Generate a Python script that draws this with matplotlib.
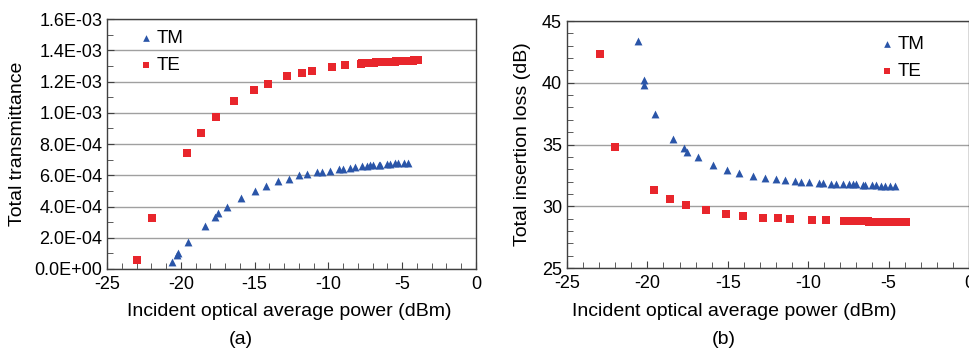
import matplotlib
matplotlib.use("Agg")
import matplotlib.pyplot as plt
from matplotlib.ticker import MultipleLocator, FuncFormatter

plt.rcParams['font.family'] = ['Liberation Sans', 'DejaVu Sans']
plt.rcParams['axes.unicode_minus'] = False

# (a) total transmittance vs incident power
te_x_a = [-22.97, -21.95, -19.58, -18.60, -17.59, -16.37, -15.05, -14.06, -12.79, -11.82,
          -11.10, -9.76, -8.86,
          -7.8, -7.7, -7.6, -7.5, -7.4, -7.3, -7.2, -7.1, -7.0, -6.9, -6.8, -6.7, -6.6,
          -6.5, -6.4, -6.3, -6.2, -6.1, -6.0, -5.9, -5.8, -5.7, -5.6, -5.5, -5.4, -5.3,
          -5.2, -5.1, -5.0, -4.9, -4.8, -4.7, -4.6, -4.5, -4.4, -4.3, -4.2, -4.1, -4.0, -3.9]
te_y_a = [0.060e-3, 0.329e-3, 0.745e-3, 0.868e-3, 0.975e-3, 1.077e-3, 1.143e-3, 1.186e-3, 1.233e-3, 1.254e-3,
          1.267e-3, 1.291e-3, 1.303e-3,
          1.315e-3, 1.316e-3, 1.317e-3, 1.317e-3, 1.318e-3, 1.319e-3, 1.320e-3, 1.320e-3, 1.321e-3,
          1.321e-3, 1.322e-3, 1.322e-3, 1.323e-3, 1.323e-3, 1.324e-3, 1.324e-3, 1.325e-3, 1.325e-3,
          1.326e-3, 1.326e-3, 1.327e-3, 1.327e-3, 1.328e-3, 1.328e-3, 1.329e-3, 1.329e-3, 1.330e-3,
          1.330e-3, 1.331e-3, 1.331e-3, 1.332e-3, 1.332e-3, 1.333e-3, 1.333e-3, 1.334e-3, 1.334e-3,
          1.335e-3, 1.335e-3, 1.336e-3, 1.337e-3]
tm_x_a = [-20.57, -20.25, -20.18, -19.48, -18.38, -17.70, -17.50, -16.84, -15.91, -14.99,
          -14.26, -13.38, -12.68, -11.96, -11.44, -10.78, -10.44, -9.90, -9.27, -9.00,
          -8.54, -8.23, -7.75, -7.41, -7.19, -7.00, -6.60, -6.50, -6.06, -5.83,
          -5.49, -5.27, -4.88, -4.59]
tm_y_a = [0.043e-3, 0.088e-3, 0.100e-3, 0.175e-3, 0.277e-3, 0.333e-3, 0.356e-3, 0.395e-3, 0.452e-3, 0.499e-3,
          0.531e-3, 0.561e-3, 0.576e-3, 0.599e-3, 0.608e-3, 0.619e-3, 0.623e-3, 0.629e-3, 0.638e-3, 0.642e-3,
          0.649e-3, 0.651e-3, 0.657e-3, 0.661e-3, 0.663e-3, 0.663e-3, 0.665e-3, 0.666e-3, 0.670e-3, 0.672e-3,
          0.676e-3, 0.676e-3, 0.678e-3, 0.678e-3]

# (b) total insertion loss vs incident power
te_x_b = [-22.97, -22.00, -19.61, -18.62, -17.61, -16.38, -15.08, -14.06, -12.82, -11.85,
          -11.10, -9.78, -8.87,
          -7.8, -7.7, -7.6, -7.5, -7.4, -7.3, -7.2, -7.1, -7.0, -6.9, -6.8, -6.7, -6.6,
          -6.5, -6.4, -6.3, -6.2, -6.1, -6.0, -5.9, -5.8, -5.7, -5.6, -5.5, -5.4, -5.3,
          -5.2, -5.1, -5.0, -4.9, -4.8, -4.7, -4.6, -4.5, -4.4, -4.3, -4.2, -4.1, -4.0, -3.9]
te_y_b = [42.31, 34.83, 31.30, 30.60, 30.11, 29.68, 29.41, 29.25, 29.09, 29.01,
          28.98, 28.90, 28.85,
          28.82, 28.82, 28.81, 28.81, 28.81, 28.80, 28.80, 28.79, 28.79, 28.79, 28.78, 28.78,
          28.78, 28.77, 28.77, 28.77, 28.76, 28.76, 28.76, 28.75, 28.75, 28.75, 28.74, 28.74,
          28.74, 28.73, 28.73, 28.73, 28.72, 28.72, 28.72, 28.71, 28.71, 28.71, 28.70, 28.70,
          28.70, 28.69, 28.69, 28.69]
tm_x_b = [-20.57, -20.22, -20.22, -19.51, -18.41, -17.75, -17.52, -16.88, -15.93, -15.02,
          -14.29, -13.42, -12.70, -11.99, -11.47, -10.81, -10.46, -9.92, -9.34, -9.05,
          -8.57, -8.26, -7.81, -7.45, -7.20, -7.00, -6.60, -6.45, -6.05, -5.80,
          -5.50, -5.25, -4.90, -4.60]
tm_y_b = [43.38, 40.26, 39.78, 37.49, 35.47, 34.69, 34.42, 33.96, 33.37, 32.97,
          32.70, 32.48, 32.32, 32.19, 32.11, 32.03, 32.00, 31.94, 31.89, 31.89,
          31.84, 31.84, 31.80, 31.78, 31.77, 31.77, 31.74, 31.73, 31.71, 31.70,
          31.68, 31.68, 31.66, 31.65]

blue = '#2a55a8'
red = '#e8262c'
grid_c = '#a0a0a0'

fig = plt.figure(figsize=(9.7, 3.52), dpi=100)
ax1 = fig.add_axes([0.1103, 0.2358, 0.3804, 0.7102])
ax2 = fig.add_axes([0.5845, 0.2386, 0.4144, 0.7017])


def style_axis(ax):
    for s in ax.spines.values():
        s.set_color('#404040')
        s.set_linewidth(1.0)
    ax.tick_params(which='both', direction='in', colors='#404040', labelcolor='black',
                   labelsize=13, top=False, right=False)
    ax.tick_params(which='major', length=5)
    ax.tick_params(which='minor', length=4)
    ax.tick_params(axis='x', pad=5)
    ax.yaxis.grid(True, which='major', color=grid_c, linewidth=1.0)
    ax.set_axisbelow(True)
    ax.set_xlim(-25, 0)
    ax.xaxis.set_major_locator(MultipleLocator(5))
    ax.xaxis.set_minor_locator(MultipleLocator(1))


style_axis(ax1)
ax1.scatter(tm_x_a, tm_y_a, marker='^', s=32, color=blue, linewidths=0, label='TM', zorder=3)
ax1.scatter(te_x_a, te_y_a, marker='s', s=32, color=red, linewidths=0, label='TE', zorder=3)
ax1.set_ylim(0, 1.6e-3)
ax1.yaxis.set_major_locator(MultipleLocator(2e-4))
ax1.yaxis.set_minor_locator(MultipleLocator(1e-4))
ax1.yaxis.set_major_formatter(FuncFormatter(lambda v, p: '%.1E' % v))
ax1.legend(loc='upper left', bbox_to_anchor=(0.06, 0.985), frameon=False, fontsize=13.5,
           handletextpad=0.05, labelspacing=0.5, borderaxespad=0, handlelength=1.0,
           markerscale=0.85)

style_axis(ax2)
ax2.scatter(tm_x_b, tm_y_b, marker='^', s=32, color=blue, linewidths=0, label='TM', zorder=3)
ax2.scatter(te_x_b, te_y_b, marker='s', s=32, color=red, linewidths=0, label='TE', zorder=3)
ax2.set_ylim(25, 45)
ax2.yaxis.set_major_locator(MultipleLocator(5))
ax2.yaxis.set_minor_locator(MultipleLocator(1))
ax2.legend(loc='upper left', bbox_to_anchor=(0.755, 0.97), frameon=False, fontsize=13.5,
           handletextpad=0.05, labelspacing=0.5, borderaxespad=0, handlelength=1.0,
           markerscale=0.85)

ax1.set_ylabel('Total transmittance', fontsize=14, labelpad=6)
ax2.set_ylabel('Total insertion loss (dB)', fontsize=14, labelpad=8)

fig.text(289 / 970, 1 - 312 / 352, 'Incident optical average power (dBm)', fontsize=14,
         ha='center', va='center')
fig.text(734 / 970, 1 - 312 / 352, 'Incident optical average power (dBm)', fontsize=14,
         ha='center', va='center')
fig.text(241 / 970, 1 - 340 / 352, '(a)', fontsize=14, ha='center', va='center')
fig.text(724 / 970, 1 - 340 / 352, '(b)', fontsize=14, ha='center', va='center')

fig.savefig('out.png', dpi=100)
